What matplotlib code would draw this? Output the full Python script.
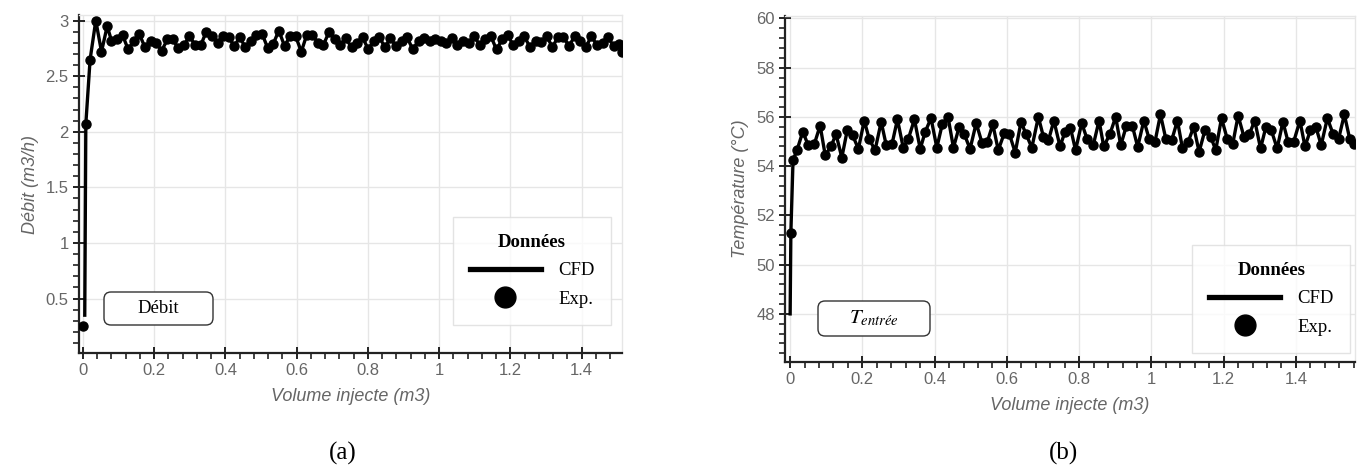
import matplotlib

matplotlib.use("Agg")
import matplotlib.pyplot as plt
from matplotlib.lines import Line2D
from matplotlib.patches import FancyBboxPatch
from matplotlib.ticker import MultipleLocator

# (a) flow rate vs injected volume
A_EXP0_X, A_EXP0_Y = 0.0, 0.25      # isolated first measurement
A_CFD0_X, A_CFD0_Y = 0.005, 0.35    # start of the CFD curve
A_VOL = [0.008, 0.020, 0.036, 0.052, 0.068,
         0.080, 0.096, 0.111, 0.127, 0.143, 0.158, 0.174, 0.190, 0.205, 0.221,
         0.237, 0.252, 0.268, 0.284, 0.299, 0.315, 0.331, 0.346, 0.362, 0.378,
         0.393, 0.409, 0.425, 0.440, 0.456, 0.472, 0.487, 0.503, 0.519, 0.534,
         0.550, 0.566, 0.581, 0.597, 0.613, 0.628, 0.644, 0.660, 0.675, 0.691,
         0.707, 0.722, 0.738, 0.754, 0.769, 0.785, 0.801, 0.816, 0.832, 0.848,
         0.863, 0.879, 0.895, 0.910, 0.926, 0.942, 0.957, 0.973, 0.989, 1.004,
         1.020, 1.036, 1.051, 1.067, 1.083, 1.098, 1.114, 1.130, 1.145, 1.161,
         1.177, 1.192, 1.208, 1.224, 1.239, 1.255, 1.271, 1.286, 1.302, 1.318,
         1.333, 1.349, 1.365, 1.380, 1.396, 1.412, 1.427, 1.443, 1.459, 1.474,
         1.490, 1.505, 1.512]
A_DEBIT = [2.07, 2.65, 3.00, 2.72, 2.95,
           2.82, 2.83, 2.87, 2.74, 2.82, 2.88, 2.76, 2.82, 2.80, 2.73,
           2.83, 2.83, 2.75, 2.78, 2.86, 2.78, 2.78, 2.90, 2.86, 2.80,
           2.86, 2.85, 2.77, 2.85, 2.76, 2.82, 2.87, 2.88, 2.75, 2.79,
           2.91, 2.77, 2.86, 2.86, 2.72, 2.87, 2.87, 2.80, 2.78, 2.90,
           2.83, 2.78, 2.84, 2.76, 2.80, 2.85, 2.74, 2.82, 2.85, 2.76,
           2.84, 2.77, 2.82, 2.85, 2.74, 2.82, 2.84, 2.82, 2.83, 2.82,
           2.80, 2.84, 2.78, 2.82, 2.80, 2.86, 2.78, 2.83, 2.86, 2.74,
           2.83, 2.87, 2.78, 2.82, 2.86, 2.76, 2.82, 2.81, 2.86, 2.76,
           2.85, 2.85, 2.77, 2.86, 2.82, 2.76, 2.86, 2.78, 2.80, 2.85,
           2.77, 2.79, 2.72]

# (b) inlet temperature vs injected volume
B_CFD0_X, B_CFD0_Y = 0.0, 48.0
B_VOL = [0.002, 0.008, 0.019, 0.035, 0.050, 0.067, 0.083, 0.097, 0.113, 0.127,
         0.143, 0.158, 0.173, 0.189, 0.205, 0.219, 0.235, 0.252, 0.266, 0.282,
         0.297, 0.313, 0.327, 0.344, 0.360, 0.374, 0.390, 0.406, 0.421, 0.437,
         0.452, 0.468, 0.482, 0.498, 0.515, 0.531, 0.546, 0.561, 0.576, 0.593,
         0.607, 0.623, 0.639, 0.653, 0.669, 0.687, 0.701, 0.715, 0.730, 0.747,
         0.761, 0.776, 0.790, 0.807, 0.822, 0.839, 0.855, 0.868, 0.885, 0.901,
         0.915, 0.931, 0.947, 0.962, 0.979, 0.994, 1.010, 1.025, 1.040, 1.056,
         1.072, 1.086, 1.102, 1.117, 1.132, 1.148, 1.164, 1.178, 1.194, 1.210,
         1.225, 1.240, 1.256, 1.271, 1.286, 1.302, 1.317, 1.332, 1.348, 1.364,
         1.378, 1.394, 1.411, 1.425, 1.440, 1.455, 1.470, 1.487, 1.503, 1.518,
         1.534, 1.549, 1.560]
B_TEMP = [51.3, 54.25, 54.65, 55.4, 54.85, 54.9, 55.65, 54.45, 54.8, 55.3,
          54.35, 55.45, 55.25, 54.7, 55.85, 55.1, 54.65, 55.8, 54.85, 54.9,
          55.9, 54.75, 55.1, 55.9, 54.7, 55.4, 55.95, 54.75, 55.7, 56.0,
          54.75, 55.6, 55.3, 54.7, 55.75, 54.95, 55.0, 55.7, 54.65, 55.35,
          55.3, 54.55, 55.8, 55.3, 54.75, 56.0, 55.2, 55.05, 55.85, 54.8,
          55.4, 55.55, 54.65, 55.75, 55.1, 54.85, 55.85, 54.8, 55.3, 56.0,
          54.85, 55.65, 55.65, 54.78, 55.85, 55.1, 55.0, 56.1, 55.1, 55.05,
          55.85, 54.72, 55.0, 55.6, 54.58, 55.45, 55.2, 54.65, 55.95, 55.1,
          54.9, 56.05, 55.2, 55.3, 55.85, 54.72, 55.6, 55.45, 54.72, 55.8,
          55.0, 55.0, 55.85, 54.8, 55.45, 55.6, 54.85, 55.95, 55.3, 55.1,
          56.1, 55.1, 54.9]

GRID = "#e6e6e6"
TICK = "#666666"
SANS = ["Liberation Sans", "DejaVu Sans"]
SERIF = ["Liberation Serif", "DejaVu Serif"]
plt.rcParams["mathtext.fontset"] = "stix"


def style_axes(ax, xlim, ylim, ymajor, yminor, ylabel):
    ax.set_xlim(*xlim)
    ax.set_ylim(*ylim)
    ax.xaxis.set_major_locator(MultipleLocator(0.2))
    ax.xaxis.set_minor_locator(MultipleLocator(0.04))
    ax.yaxis.set_major_locator(MultipleLocator(ymajor))
    ax.yaxis.set_minor_locator(MultipleLocator(yminor))
    ax.xaxis.set_major_formatter(lambda v, p: f"{v:g}")
    ax.yaxis.set_major_formatter(lambda v, p: f"{v:g}")
    ax.grid(which="major", color=GRID, lw=1.0, zorder=0)
    for s in ("top", "right"):
        ax.spines[s].set_color(GRID)
        ax.spines[s].set_linewidth(1.0)
    for s in ("left", "bottom"):
        ax.spines[s].set_color("#222222")
        ax.spines[s].set_linewidth(1.6)
    ax.tick_params(which="major", direction="inout", length=8, width=1.4, color="#222222",
                   labelcolor=TICK, labelsize=12, top=False, right=False)
    ax.tick_params(which="minor", direction="out", length=4, width=1.2, color="#222222",
                   top=False, right=False)
    for lab in ax.get_xticklabels() + ax.get_yticklabels():
        lab.set_family(SANS)
    ax.set_xlabel("Volume injecte (m3)", family=SANS, style="italic", color=TICK, fontsize=13,
                  labelpad=7)
    ax.set_ylabel(ylabel, family=SANS, style="italic", color=TICK, fontsize=13, labelpad=5)


def add_legend(ax, anchor):
    handles = [Line2D([], [], color="black", lw=3.8),
               Line2D([], [], color="black", lw=0, marker="o", ms=15)]
    leg = ax.legend(handles, ["CFD", "Exp."], title="Données", loc="lower left",
                    bbox_to_anchor=anchor, frameon=True, fancybox=False, handlelength=3.8,
                    handletextpad=0.9, borderpad=0.9, labelspacing=0.6,
                    prop={"family": SERIF, "size": 13.5},
                    title_fontproperties={"family": SERIF, "size": 13.5, "weight": "bold"})
    leg.get_frame().set_edgecolor("#dddddd")
    leg.get_frame().set_linewidth(1.0)


def add_tag(fig, x0, y0, w, h, text, size=13.5):
    # rounded label box, given in figure inches
    box = FancyBboxPatch((x0, y0), w, h, boxstyle="round,pad=0,rounding_size=0.07",
                         transform=fig.dpi_scale_trans, fc="white", ec="#333333", lw=1.0)
    fig.add_artist(box)
    fig.text(x0 + w / 2, y0 + h / 2, text, transform=fig.dpi_scale_trans, ha="center",
             va="center", family=SERIF, fontsize=size)


fig = plt.figure(figsize=(13.63, 4.70), dpi=100)
ax1 = fig.add_axes([0.058, 0.249, 0.398, 0.719])
ax2 = fig.add_axes([0.576, 0.230, 0.418, 0.736])

ax1.plot([A_CFD0_X] + A_VOL, [A_CFD0_Y] + A_DEBIT, color="black", lw=2.4, zorder=3)
ax1.plot([A_EXP0_X] + A_VOL, [A_EXP0_Y] + A_DEBIT, "o", color="black", ms=6.5, zorder=4)
style_axes(ax1, (-0.011, 1.512), (0.01, 3.05), 0.5, 0.1, "Débit (m3/h)")
add_legend(ax1, (0.672, 0.056))
add_tag(fig, 1.04, 1.45, 1.09, 0.33, "Débit")

ax2.plot([B_CFD0_X] + B_VOL, [B_CFD0_Y] + B_TEMP, color="black", lw=2.4, zorder=3)
ax2.plot(B_VOL, B_TEMP, "o", color="black", ms=6.5, zorder=4)
style_axes(ax2, (-0.014, 1.563), (46.05, 60.1), 2, 0.4, "Température (°C)")
add_legend(ax2, (0.698, 0.0))
add_tag(fig, 8.18, 1.34, 1.12, 0.35, r"$T_{\mathit{entrée}}$", size=15)

fig.text(343 / 1363, 1 - 453 / 470, "(a)", ha="center", va="center", family=SERIF, fontsize=18)
fig.text(1063 / 1363, 1 - 453 / 470, "(b)", ha="center", va="center", family=SERIF, fontsize=18)

fig.savefig("out.png", dpi=100)
